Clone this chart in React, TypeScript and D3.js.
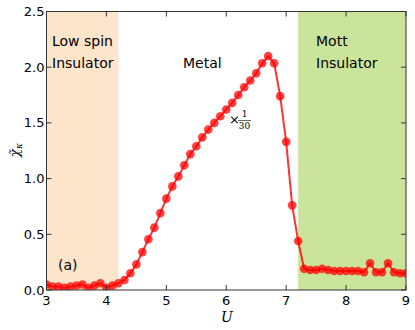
import React from "react";
import * as d3 from "d3";

const U = [3.0,3.1,3.2,3.3,3.4,3.5,3.6,3.7,3.8,3.9,4.0,4.1,4.2,4.3,4.4,4.5,4.6,4.7,4.8,4.9,5.0,5.1,5.2,5.3,5.4,5.5,5.6,5.7,5.8,5.9,6.0,6.1,6.2,6.3,6.4,6.5,6.6,6.7,6.8,6.9,7.0,7.1,7.2,7.3,7.4,7.5,7.6,7.7,7.8,7.9,8.0,8.1,8.2,8.3,8.4,8.5,8.6,8.7,8.8,8.9,9.0];
const chi = [0.05,0.03,0.03,0.02,0.03,0.04,0.05,0.02,0.04,0.06,0.02,0.04,0.06,0.09,0.15,0.23,0.34,0.455,0.56,0.69,0.82,0.93,1.02,1.12,1.22,1.29,1.37,1.44,1.50,1.56,1.62,1.68,1.75,1.82,1.88,1.945,2.035,2.10,2.035,1.74,1.33,0.76,0.44,0.19,0.18,0.18,0.19,0.18,0.17,0.17,0.17,0.17,0.17,0.16,0.24,0.16,0.16,0.24,0.16,0.15,0.15];
const xTicks = [3,4,5,6,7,8,9];
const yTicks = [0.0,0.5,1.0,1.5,2.0,2.5];
const regions = [
  { from: 3.0, to: 4.2, color: "#fde5cc" },
  { from: 7.2, to: 9.0, color: "#cbe49b" },
];

export default function App() {
  const W = 415, H = 330;
  const left = 46.5, right = 406, top = 11.5, bottom = 290;
  const x = d3.scaleLinear().domain([3, 9]).range([left, right]);
  const y = d3.scaleLinear().domain([0, 2.5]).range([bottom, top]);
  const pts = U.map((u, i) => [u, chi[i]] as [number, number]);
  const line = d3.line<[number, number]>().x(d => x(d[0])).y(d => y(d[1]));
  const font = "DejaVu Sans, sans-serif";
  const tl = 5;
  return (
    <svg width={W} height={H} style={{ position: "absolute", left: 0, top: 0, background: "#fff" }}>
      <defs>
        <clipPath id="clip"><rect x={left} y={top} width={right - left} height={bottom - top} /></clipPath>
      </defs>
      {regions.map((r, i) => (
        <rect key={i} x={x(r.from)} y={top} width={x(r.to) - x(r.from)} height={bottom - top} fill={r.color} />
      ))}
      <g clipPath="url(#clip)">
        <path d={line(pts) || ""} fill="none" stroke="#ff0000" strokeOpacity={0.8} strokeWidth={2} />
        {pts.map((p, i) => (
          <circle key={i} cx={x(p[0])} cy={y(p[1])} r={4.3} fill="#ff0000" fillOpacity={0.75} />
        ))}
      </g>
      <rect x={left} y={top} width={right - left} height={bottom - top} fill="none" stroke="#333" strokeWidth={1} />
      {xTicks.map(t => (
        <g key={"x" + t}>
          <line x1={x(t)} x2={x(t)} y1={bottom} y2={bottom - tl} stroke="#333" />
          <line x1={x(t)} x2={x(t)} y1={top} y2={top + tl} stroke="#333" />
          <text x={x(t)} y={bottom + 15} textAnchor="middle" fontFamily={font} fontSize={13} fill="#000">{t}</text>
        </g>
      ))}
      {yTicks.map(t => (
        <g key={"y" + t}>
          <line x1={left} x2={left + tl} y1={y(t)} y2={y(t)} stroke="#333" />
          <line x1={right} x2={right - tl} y1={y(t)} y2={y(t)} stroke="#333" />
          <text x={left - 2} y={y(t) + 4.5} textAnchor="end" fontFamily={font} fontSize={13} fill="#000">{t.toFixed(1)}</text>
        </g>
      ))}
      <text x={227} y={322} textAnchor="middle" fontFamily="DejaVu Serif, serif" fontStyle="italic" fontSize={14}>U</text>
      <g transform="translate(19,150) rotate(-90)">
        <text x={0} y={0} textAnchor="middle" fontFamily="DejaVu Serif, serif" fontStyle="italic" fontSize={13}>
          χ̃<tspan fontSize={9} dy={3}>κ</tspan>
        </text>
      </g>
      <text x={52} y={46} fontFamily={font} fontSize={14}>Low spin</text>
      <text x={52} y={68} fontFamily={font} fontSize={14}>Insulator</text>
      <text x={183} y={68} fontFamily={font} fontSize={14}>Metal</text>
      <text x={316} y={46} fontFamily={font} fontSize={14}>Mott</text>
      <text x={316} y={68} fontFamily={font} fontSize={14}>Insulator</text>
      <text x={58} y={270} fontFamily={font} fontSize={14}>(a)</text>
      <text x={229} y={124} fontFamily="DejaVu Serif, serif" fontSize={13}>×</text>
      <text x={244.5} y={117} textAnchor="middle" fontFamily="DejaVu Serif, serif" fontSize={9}>1</text>
      <line x1={238} x2={251} y1={120.5} y2={120.5} stroke="#000" strokeWidth={0.6} />
      <text x={244.5} y={129} textAnchor="middle" fontFamily="DejaVu Serif, serif" fontSize={9}>30</text>
    </svg>
  );
}
